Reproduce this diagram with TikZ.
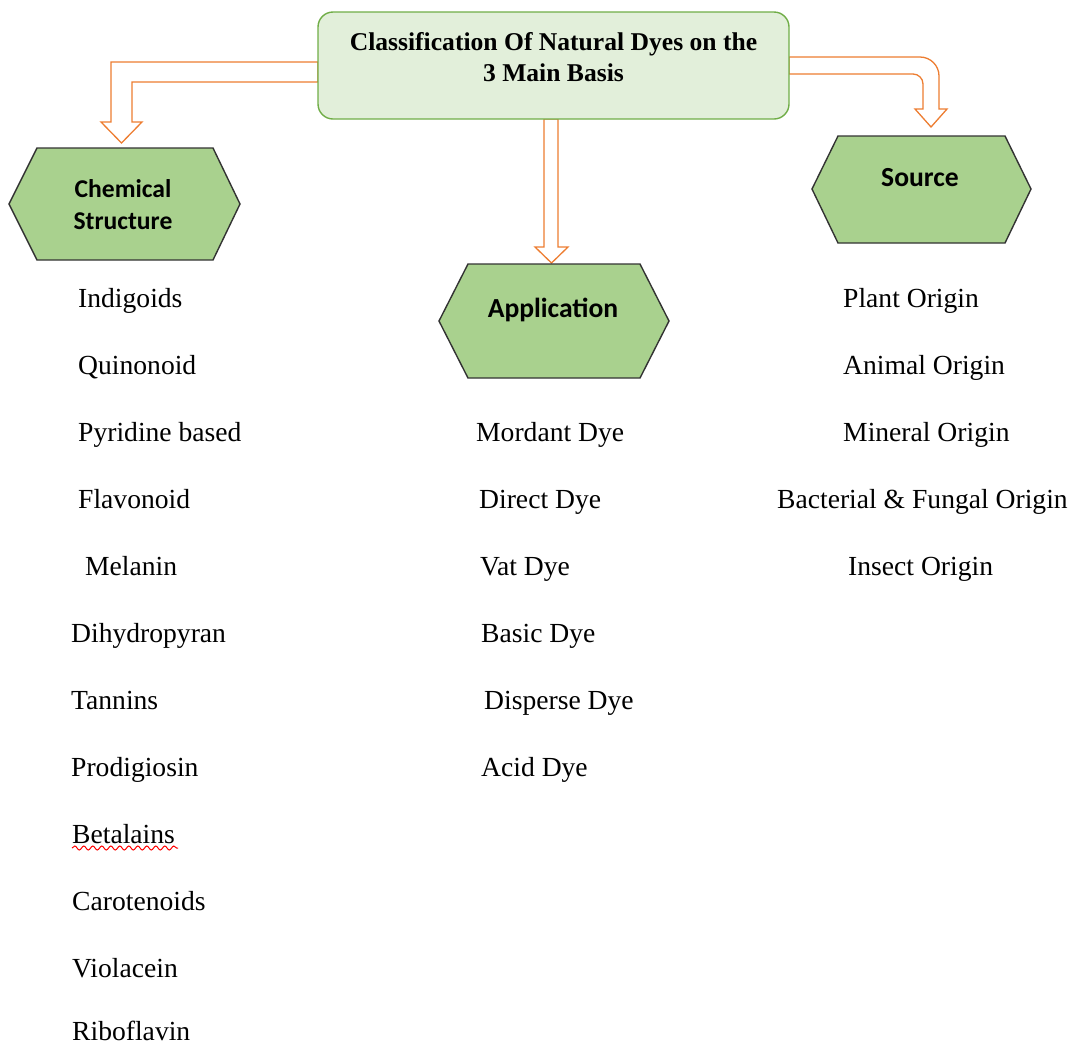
\documentclass[tikz,border=0pt]{standalone}
\usepackage{fontspec}
\setmainfont{Liberation Serif}
\newfontfamily\calib{Carlito}
\usetikzlibrary{decorations.pathmorphing}
\definecolor{boxfill}{HTML}{E2EFDA}
\definecolor{boxline}{HTML}{70AD47}
\definecolor{hexfill}{HTML}{A9D18E}
\definecolor{hexline}{HTML}{333333}
\definecolor{arr}{HTML}{ED7D31}
\tikzset{
  hexbox/.style={draw=hexline, fill=hexfill, line width=1.4pt, line join=miter},
  hollowarrow/.style={draw=arr, fill=white, line width=1.3pt, line join=miter},
  titletext/.style={font=\fontsize{25.6}{31}\selectfont\bfseries, align=center, inner sep=0},
  hextext/.style={font=\fontsize{27.6}{32}\selectfont\calib\bfseries, align=center, inner sep=0},
  hextextsmall/.style={font=\fontsize{25.6}{32}\selectfont\calib\bfseries, align=center, inner sep=0},
  item/.style={font=\fontsize{27.6}{32}\selectfont, anchor=base west, inner sep=0},
}
\begin{document}
\begin{tikzpicture}[x=1pt, y=-1pt]
\useasboundingbox (0,0) rectangle (1075,1045);

% hollow arrows
\draw[hollowarrow] (318,62) -- (111,62) -- (111,122) -- (101,122) -- (121.5,143)
  -- (142,122) -- (132,122) -- (132,82) -- (318,82) -- cycle;
\draw[hollowarrow] (544,119) -- (544,247) -- (535,247) -- (551.5,263) -- (568,247)
  -- (558,247) -- (558,119) -- cycle;
\draw[hollowarrow] (789,57) -- (920,57) .. controls (930.5,57) and (939,65.5) .. (939,76)
  -- (939,109) -- (947,109) -- (931,127) -- (915,109) -- (923,109) -- (923,84)
  .. controls (923,78.5) and (918.5,74) .. (913,74) -- (789,74) -- cycle;

% title box
\draw[draw=boxline, fill=boxfill, line width=1.4pt, rounded corners=15pt] (318,12) rectangle (789,119);
\node[titletext] (title) at (553.5,57.5) {Classification Of Natural Dyes on the\\3 Main Basis};

% hexagons
\draw[hexbox] (9,204) -- (37,148) -- (213,148) -- (240,204) -- (213,260) -- (37,260) -- cycle;
\node[hextextsmall] (chem) at (123,205) {Chemical\\Structure};
\draw[hexbox] (439,321) -- (468,264) -- (640,264) -- (669,321) -- (640,378) -- (468,378) -- cycle;
\node[hextext] (appl) at (553,310) {Application};
\draw[hexbox] (812,189) -- (838,136) -- (1005,136) -- (1031,189) -- (1005,243) -- (838,243) -- cycle;
\node[hextext] (src) at (920,178) {Source};

% chemical structure list
\node[item] (c1) at (78,307) {Indigoids};
\node[item] (c2) at (78,374) {Quinonoid};
\node[item] (c3) at (78,441) {Pyridine based};
\node[item] (c4) at (78,508) {Flavonoid};
\node[item] (c5) at (85,575) {Melanin};
\node[item] (c6) at (71,642) {Dihydropyran};
\node[item] (c7) at (71,709) {Tannins};
\node[item] (c8) at (71,776) {Prodigiosin};
\node[item] (c9) at (72,843) {Betalains};
\node[item] (c10) at (72,910) {Carotenoids};
\node[item] (c11) at (72,977) {Violacein};
\node[item] (c12) at (72,1040) {Riboflavin};
\draw[red, line width=1pt, decorate, decoration={snake, segment length=9pt, amplitude=2pt}]
  (c9.base west) ++(0,5) -- ++(106,0);

% application list
\node[item] (a1) at (476,441) {Mordant Dye};
\node[item] (a2) at (479,508) {Direct Dye};
\node[item] (a3) at (480,575) {Vat Dye};
\node[item] (a4) at (481,642) {Basic Dye};
\node[item] (a5) at (484,709) {Disperse Dye};
\node[item] (a6) at (481,776) {Acid Dye};

% source list
\node[item] (s1) at (843,307) {Plant Origin};
\node[item] (s2) at (843,374) {Animal Origin};
\node[item] (s3) at (843,441) {Mineral Origin};
\node[item] (s4) at (777,508) {Bacterial \& Fungal Origin};
\node[item] (s5) at (848,575) {Insect Origin};
\end{tikzpicture}
\end{document}
